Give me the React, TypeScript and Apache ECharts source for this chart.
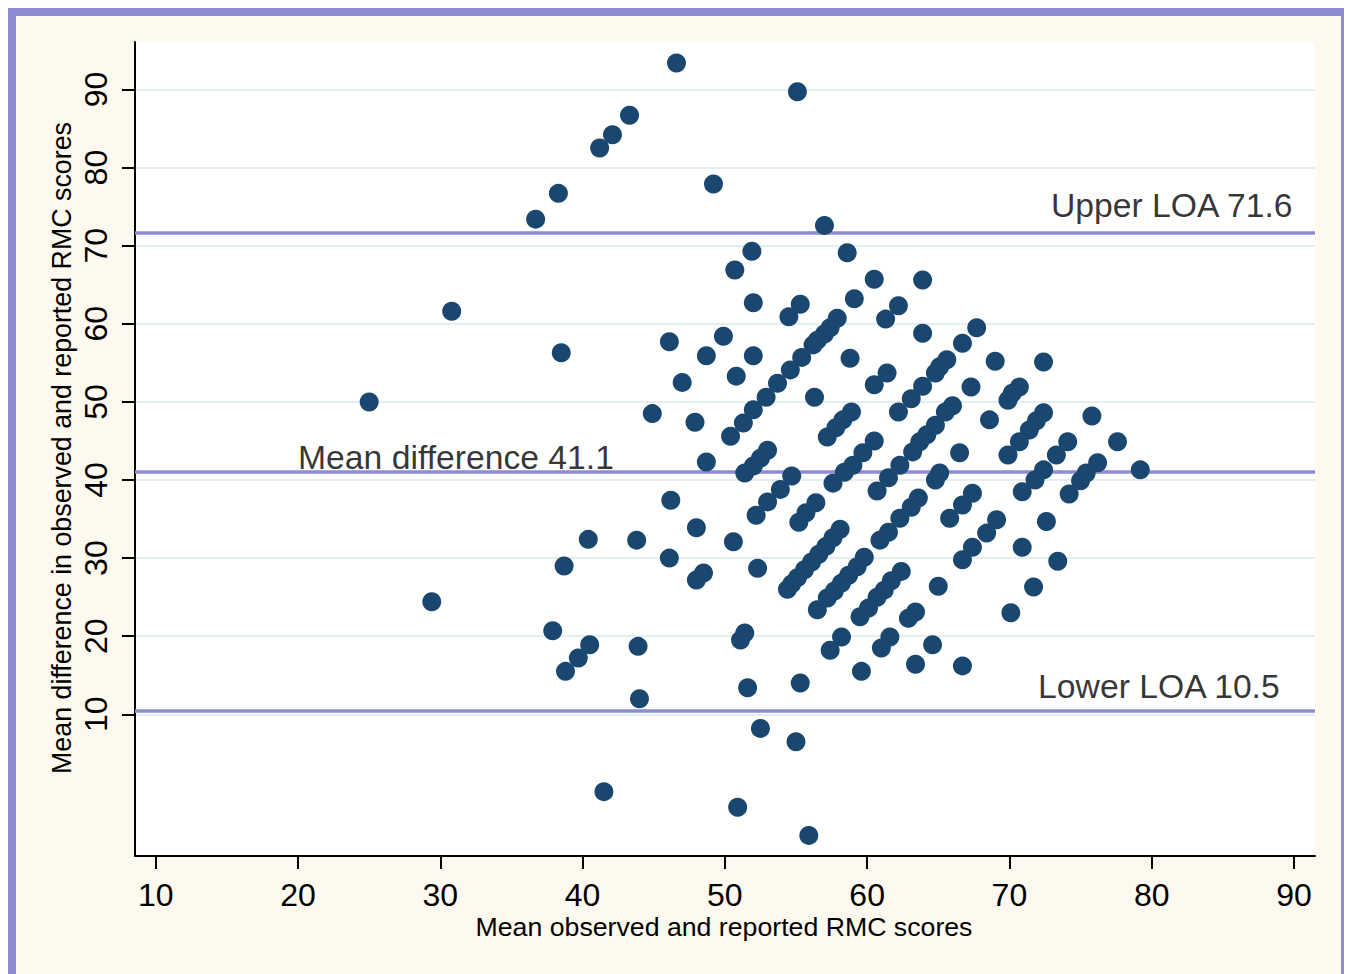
import React, { useEffect, useRef } from "react";
import * as echarts from "echarts";

const X_TICKS = [10, 20, 30, 40, 50, 60, 70, 80, 90];
const Y_TICKS = [10, 20, 30, 40, 50, 60, 70, 80, 90];
const REF_VALUES = [71.6, 41.1, 10.5];
const REF_LABELS = ["Upper LOA 71.6", "Mean difference 41.1", "Lower LOA 10.5"];
const X_TITLE = "Mean observed and reported RMC scores";
const Y_TITLE = "Mean difference in observed and reported RMC scores";

// [mean score, mean difference]
const outerPoints = [
  [46.6, 93.4], [55.1, 89.7], [43.3, 86.7], [42.1, 84.2], [41.2, 82.5], [38.3, 76.7], [36.7, 73.4],
  [49.2, 77.9], [57.0, 72.6], [30.8, 61.6], [38.5, 56.3], [25.0, 50.0], [29.4, 24.4], [37.9, 20.7],
  [38.7, 29.0], [39.7, 17.2], [38.8, 15.5], [40.5, 18.9], [40.4, 32.4], [41.5, 0.1], [43.8, 32.3],
  [43.9, 18.7], [44.0, 12.0], [44.9, 48.5], [46.1, 57.7], [46.1, 30.0], [46.2, 37.4], [47.0, 52.5],
  [47.9, 47.4], [48.0, 33.9], [48.0, 27.2], [48.5, 28.1], [48.7, 42.3], [48.7, 55.9], [49.9, 58.4],
  [50.7, 66.9], [51.9, 69.3], [52.0, 62.7], [52.0, 55.9], [50.8, 53.3], [50.6, 32.1], [51.1, 19.5],
  [51.4, 20.4], [51.6, 13.4], [52.3, 28.7], [52.5, 8.2], [55.0, 6.5], [50.9, -1.9], [55.9, -5.5],
  [55.3, 14.0],
];

const middlePoints = [
  [53.0, 43.8], [52.5, 42.8], [52.0, 41.8], [51.4, 40.9],
  [54.7, 40.5], [53.9, 38.8], [53.0, 37.2], [52.2, 35.5],
  [50.4, 45.6], [51.3, 47.3], [52.0, 49.0], [52.9, 50.6], [53.7, 52.4], [54.6, 54.1], [55.4, 55.7],
  [56.2, 57.3], [56.5, 57.9], [57.0, 58.7], [57.4, 59.5], [57.9, 60.7],
  [54.5, 60.9], [55.3, 62.5], [58.6, 69.1], [60.5, 65.7], [59.1, 63.2], [58.8, 55.6], [56.3, 50.6],
  [58.9, 48.7], [58.3, 47.7], [57.8, 46.7], [57.2, 45.5],
  [60.5, 52.2], [61.4, 53.7], [61.3, 60.6], [62.2, 62.3],
  [57.6, 39.6], [58.4, 41.0], [59.0, 41.9], [59.7, 43.5], [60.5, 45.0],
  [56.4, 37.1], [55.7, 35.8], [55.2, 34.6],
  [58.1, 33.7], [57.6, 32.6], [57.1, 31.5], [56.6, 30.5], [56.1, 29.5], [55.6, 28.5], [55.1, 27.5],
  [54.7, 26.7], [54.4, 26.0],
  [56.5, 23.4], [57.2, 24.9], [57.7, 25.8], [58.2, 26.8], [58.7, 27.8], [59.3, 28.9], [59.8, 30.1],
  [57.4, 18.2], [58.2, 19.9], [59.6, 15.5],
];

const rightPoints = [
  [63.9, 65.6], [63.9, 58.8], [67.7, 59.5], [66.7, 57.5],
  [65.6, 55.4], [65.1, 54.5], [64.8, 53.7],
  [69.0, 55.2], [72.4, 55.1],
  [63.9, 52.0], [63.1, 50.4], [62.2, 48.7], [67.3, 51.9],
  [70.7, 51.9], [70.2, 51.1], [69.9, 50.2],
  [66.0, 49.5], [65.5, 48.7],
  [64.8, 47.0], [64.2, 45.8], [63.7, 44.9], [63.2, 43.6], [62.3, 41.9], [61.5, 40.3], [60.7, 38.6],
  [68.6, 47.7],
  [72.4, 48.6], [71.9, 47.6], [71.4, 46.4], [70.7, 44.9], [69.9, 43.2],
  [74.1, 44.9], [75.8, 48.2], [77.6, 44.9], [79.2, 41.3],
  [76.2, 42.2], [75.4, 40.9], [75.0, 39.9], [74.2, 38.2],
  [73.3, 43.2], [72.4, 41.3], [71.8, 40.0], [70.9, 38.5],
  [66.5, 43.5], [65.1, 40.9], [64.8, 40.0],
  [67.4, 38.3], [66.7, 36.8], [65.8, 35.1],
  [63.6, 37.7], [63.1, 36.5], [62.3, 35.1], [61.5, 33.3], [60.9, 32.3],
  [69.1, 34.9], [68.4, 33.2], [67.4, 31.4], [66.7, 29.8],
  [72.6, 34.7], [70.9, 31.4], [73.4, 29.6], [71.7, 26.3], [70.1, 23.0], [65.0, 26.4],
  [62.4, 28.3], [61.7, 27.1], [61.2, 25.9], [60.7, 25.0], [60.1, 23.6], [59.5, 22.5],
  [63.4, 23.1], [62.9, 22.3],
  [61.6, 19.9], [61.0, 18.5], [64.6, 18.9], [63.4, 16.4], [66.7, 16.2],
];

const FONT = "'Liberation Sans', Arial, Helvetica, sans-serif";
const PURPLE = "#8e8bd0";
const NAVY = "#1a476f";

export default function App() {
  const ref = useRef<HTMLDivElement>(null);

  useEffect(() => {
    if (!ref.current) return;
    const chart = echarts.init(ref.current, undefined, { renderer: "svg" });
    const points = [...outerPoints, ...middlePoints, ...rightPoints];
    const labelAnchors = [
      { value: [89.9, 75.2], align: "right" },
      { value: [20.0, 42.9], align: "left" },
      { value: [89.0, 13.6], align: "right" },
    ];
    chart.setOption({
      animation: false,
      backgroundColor: "transparent",
      grid: {
        left: 119,
        right: 26,
        top: 26,
        bottom: 118,
        show: true,
        backgroundColor: "#ffffff",
        borderWidth: 0,
        containLabel: false,
        outerBoundsMode: "none",
      },
      xAxis: {
        type: "value",
        min: 8.54,
        max: 91.48,
        axisLine: { show: true, onZero: false, lineStyle: { color: "#000", width: 2 } },
        axisTick: { show: true, length: 13, customValues: X_TICKS, lineStyle: { color: "#000", width: 2 } },
        axisLabel: { show: true, customValues: X_TICKS, fontSize: 32, color: "#000", margin: 23, fontFamily: FONT },
        splitLine: { show: false },
      },
      yAxis: {
        type: "value",
        min: -8.14,
        max: 96.08,
        axisLine: { show: true, onZero: false, lineStyle: { color: "#000", width: 2 } },
        axisTick: { show: true, length: 13, customValues: Y_TICKS, lineStyle: { color: "#000", width: 2 } },
        axisLabel: { show: true, customValues: Y_TICKS, rotate: 90, fontSize: 32, color: "#000", margin: 23.5, fontFamily: FONT },
        splitLine: { show: true, lineStyle: { color: "#e4eef1", width: 2 } },
      },
      graphic: [
        {
          type: "text",
          x: 708,
          y: 911,
          style: { text: X_TITLE, fontSize: 26.7, fontFamily: FONT, fill: "#000", align: "center", verticalAlign: "middle" },
        },
        {
          type: "text",
          x: 46,
          y: 432,
          rotation: Math.PI / 2,
          style: { text: Y_TITLE, fontSize: 26.8, fontFamily: FONT, fill: "#000", align: "center", verticalAlign: "middle" },
        },
      ],
      series: [
        {
          type: "scatter",
          name: "points",
          data: points,
          symbol: "circle",
          symbolSize: 19,
          itemStyle: { color: NAVY, opacity: 1 },
          z: 3,
          markLine: {
            silent: true,
            symbol: "none",
            z: 1,
            label: { show: false },
            lineStyle: { color: PURPLE, width: 3.5, type: "solid" },
            data: REF_VALUES.map((v) => ({ yAxis: v })),
          },
        },
        {
          type: "scatter",
          name: "labels",
          silent: true,
          symbolSize: 1,
          itemStyle: { color: "rgba(0,0,0,0)" },
          z: 4,
          label: {
            show: true,
            position: "inside",
            formatter: (p: any) => p.name,
            fontSize: 33.7,
            fontFamily: FONT,
            color: "#000",
            textBorderWidth: 0,
            verticalAlign: "middle",
          },
          data: REF_LABELS.map((t, i) => ({
            name: t,
            value: labelAnchors[i].value,
            label: { align: labelAnchors[i].align },
          })),
        },
      ],
    });
    return () => chart.dispose();
  }, []);

  return (
    <div
      style={{
        width: 1341,
        height: 966,
        boxSizing: "border-box",
        borderTop: `8px solid ${PURPLE}`,
        borderLeft: `8px solid ${PURPLE}`,
        borderRight: `8px solid ${PURPLE}`,
        background: "#fdf9ee",
      }}
    >
      <div ref={ref} style={{ width: 1325, height: 958 }} />
    </div>
  );
}
